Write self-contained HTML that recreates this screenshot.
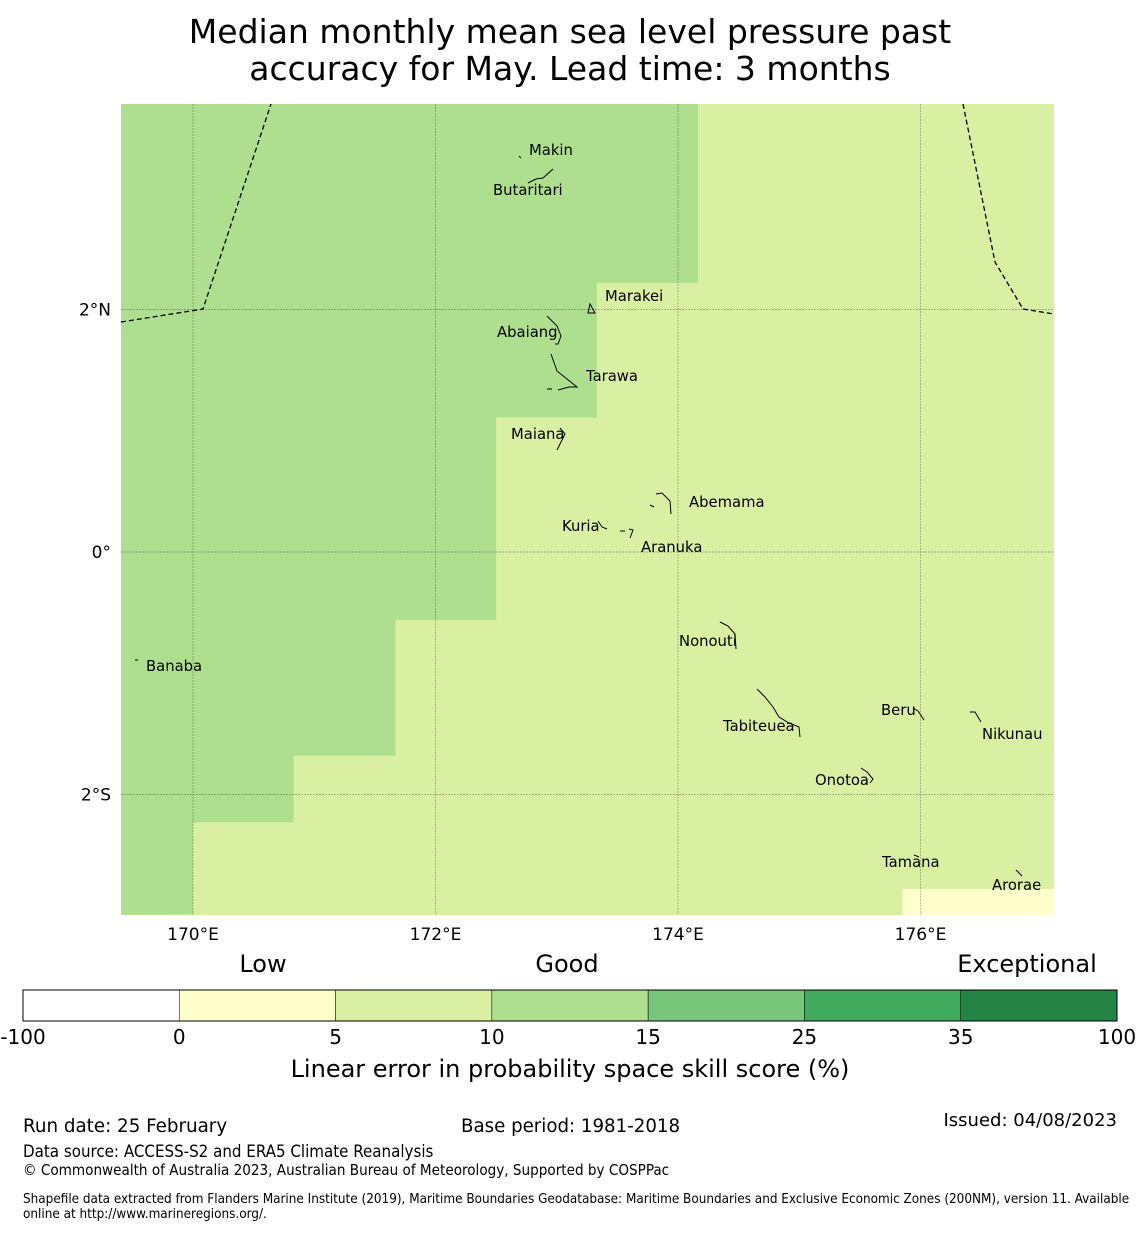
<!DOCTYPE html>
<html><head><meta charset="utf-8"><style>
body{margin:0;background:#fff;width:1140px;height:1230px;overflow:hidden;font-family:"DejaVu Sans","Liberation Sans",sans-serif}
svg text{font-family:"DejaVu Sans","Liberation Sans",sans-serif}
</style></head><body>
<svg id="chart" width="1140" height="1230" xmlns="http://www.w3.org/2000/svg">
<text x="570" y="43" font-size="33" text-anchor="middle">Median monthly mean sea level pressure past</text>
<text x="570" y="80" font-size="33" text-anchor="middle">accuracy for May. Lead time: 3 months</text>
<g id="map"></g>
<g id="cbar"></g>
<text x="570" y="1077" font-size="24" text-anchor="middle">Linear error in probability space skill score (%)</text>
<text x="263" y="972" font-size="24" text-anchor="middle">Low</text>
<text x="567" y="972" font-size="24" text-anchor="middle">Good</text>
<text x="1027" y="972" font-size="24" text-anchor="middle">Exceptional</text>
<text x="23" y="1132" font-size="18.3">Run date: 25 February</text>
<text x="461" y="1132" font-size="18.2">Base period: 1981-2018</text>
<text x="1117" y="1126" font-size="18" text-anchor="end">Issued: 04/08/2023</text>
<text x="23" y="1157" font-size="16.8" font-stretch="condensed">Data source: ACCESS-S2 and ERA5 Climate Reanalysis</text>
<text x="23" y="1175" font-size="15.1" font-stretch="condensed">© Commonwealth of Australia 2023, Australian Bureau of Meteorology, Supported by COSPPac</text>
<text x="23" y="1203" font-size="13.4" font-stretch="condensed">Shapefile data extracted from Flanders Marine Institute (2019), Maritime Boundaries Geodatabase: Maritime Boundaries and Exclusive Economic Zones (200NM), version 11. Available</text>
<text x="23" y="1218" font-size="13.4" font-stretch="condensed">online at http://www.marineregions.org/.</text>
</svg>
<script>
// Colorbar data
const binEdges=["-100","0","5","10","15","25","35","100"];
const binColors=["#ffffff","#ffffcc","#d9f0a3","#addf8e","#78c679","#41ab5d","#238443"];
// Skill region (10-15%) staircase boundary: lon/lat corners
const goodLons=[174.165,173.33,172.5,171.67,170.83,170.0];
const goodLats=[2.22,1.11,-0.56,-1.68,-2.23,-2.99];
// Low (0-5) patch
const lowLon=[175.85,177.1];const lowLat=[-2.99,-2.78];
const lonTicks=[170,172,174,176];const lonLabels=["170°E","172°E","174°E","176°E"];
const latTicks=[2,0,-2];const latLabels=["2°N","0°","2°S"];
const islandNames=["Makin","Butaritari","Marakei","Abaiang","Tarawa","Maiana","Abemama","Kuria","Aranuka","Banaba","Nonouti","Tabiteuea","Beru","Nikunau","Onotoa","Tamana","Arorae"];
const islandLon=[172.88,172.75,173.55,172.35,173.75,172.85,174.4,172.45,173.55,169.75,174.05,174.5,175.8,176.85,175.55,175.9,176.75];
const islandLat=[3.33,3.0,2.03,1.82,1.46,0.97,0.41,0.22,0.03,-0.93,-0.73,-1.43,-1.3,-1.5,-1.8,-2.48,-2.67];

const NS="http://www.w3.org/2000/svg";
const X0=121,X1=1054,Y0=104,Y1=915;
const sx=lon=>193+(lon-170)*121.25;
const sy=lat=>552-lat*121.2;
function mk(tag,attrs,parent){const e=document.createElementNS(NS,tag);for(const k in attrs)e.setAttribute(k,attrs[k]);parent.appendChild(e);return e;}
const map=document.getElementById('map');
const bg=mk('rect',{x:X0,y:Y0,width:X1-X0,height:Y1-Y0,fill:"#d9f0a3"},map);


let d=`M${X0},${Y0} L${sx(goodLons[0])},${Y0}`;
for(let i=0;i<goodLons.length;i++){
  d+=` L${sx(goodLons[i])},${sy(goodLats[i])}`;
  if(i+1<goodLons.length)d+=` L${sx(goodLons[i+1])},${sy(goodLats[i])}`;
}
d+=` L${X0},${Y1} Z`;
const gp=mk('path',{d:d,fill:"#addf8e"},map);


const lp=mk('rect',{x:sx(lowLon[0]),y:Math.max(sy(lowLat[1]),Y0),width:X1-sx(lowLon[0]),height:Y1-sy(lowLat[1]),fill:"#ffffcc"},map);


lonTicks.forEach((v,i)=>{
  const l=mk('line',{x1:sx(v),x2:sx(v),y1:Y0,y2:Y1,stroke:"#000","stroke-opacity":0.35,"stroke-width":0.7,"stroke-dasharray":"2,1"},map);
  
  
  const t=mk('text',{x:sx(v),y:940,"font-size":17,"text-anchor":"middle"},map);t.textContent=lonLabels[i];
  
  
});
latTicks.forEach((v,i)=>{
  const l=mk('line',{x1:X0,x2:X1,y1:sy(v),y2:sy(v),stroke:"#000","stroke-opacity":0.35,"stroke-width":0.7,"stroke-dasharray":"2,1"},map);
  
  
  const t=mk('text',{x:111,y:sy(v)+6,"font-size":17,"text-anchor":"end"},map);t.textContent=latLabels[i];
  
  
});
const e1=mk('polyline',{points:"121,322 203,309 271,104",fill:"none",stroke:"#000","stroke-width":1.3,"stroke-dasharray":"5,3"},map);


const e2=mk('polyline',{points:"963,104 995,262 1023,309 1054,314",fill:"none",stroke:"#000","stroke-width":1.3,"stroke-dasharray":"5,3"},map);


const shapes=["M519,156 l2,2","M528,183 l8,-4 l7,-1 l10,-9","M588,313 l2,-9 l5,9 z","M547,316 l10,10 l4,10 l-3,8 l-3,0","M551,354 l6,17 l10,8 l10,8 l-8,0 l-11,3 M547,389 l5,0","M560,428 l5,6 l-3,6 l-5,10","M650,505 l4,2 M656,494 l6,-1 l8,8 l1,13","M598,521 l4,6 l5,2","M620,531 l5,0 M629,529 l4,1 l-3,8","M135,660 l3,0","M720,622 l8,4 l7,8 l1,15","M757,689 l8,8 l8,10 l6,10 l10,6 l10,4 l1,10","M913,708 l5,3 l6,9","M970,712 l5,0 l6,10","M861,768 l6,4 l6,7 l-3,4","M914,855 l5,2","M1016,870 l6,6"];
shapes.forEach(s=>{const p=mk('path',{d:s,fill:"none",stroke:"#000","stroke-width":1},map);

});
const labelPos=[[529,155],[493,195],[605,301],[497,337],[586,381],[511,439],[689,507],[562,531],[641,552],[146,671],[679,646],[723,731],[881,715],[982,739],[815,785],[882,867],[992,890]];
islandNames.forEach((n,i)=>{
  const t=mk('text',{x:labelPos[i][0],y:labelPos[i][1],"font-size":14.8},map);t.textContent=n;
  
  
});
const cb=document.getElementById('cbar');
const cx0=23,cw=(1117-23)/binColors.length;
binColors.forEach((c,i)=>{
  const r=mk('rect',{x:cx0+i*cw,y:990,width:cw,height:31,fill:c,stroke:"#000","stroke-width":0.5},cb);
  
  
});
binEdges.forEach((v,i)=>{
  const t=mk('text',{x:cx0+i*cw,y:1044,"font-size":20,"text-anchor":"middle"},cb);t.textContent=v;
  
  
});
const fr=mk('rect',{x:cx0,y:990,width:1094,height:31,fill:"none",stroke:"#000","stroke-width":1},cb);


</script>
</body></html>
